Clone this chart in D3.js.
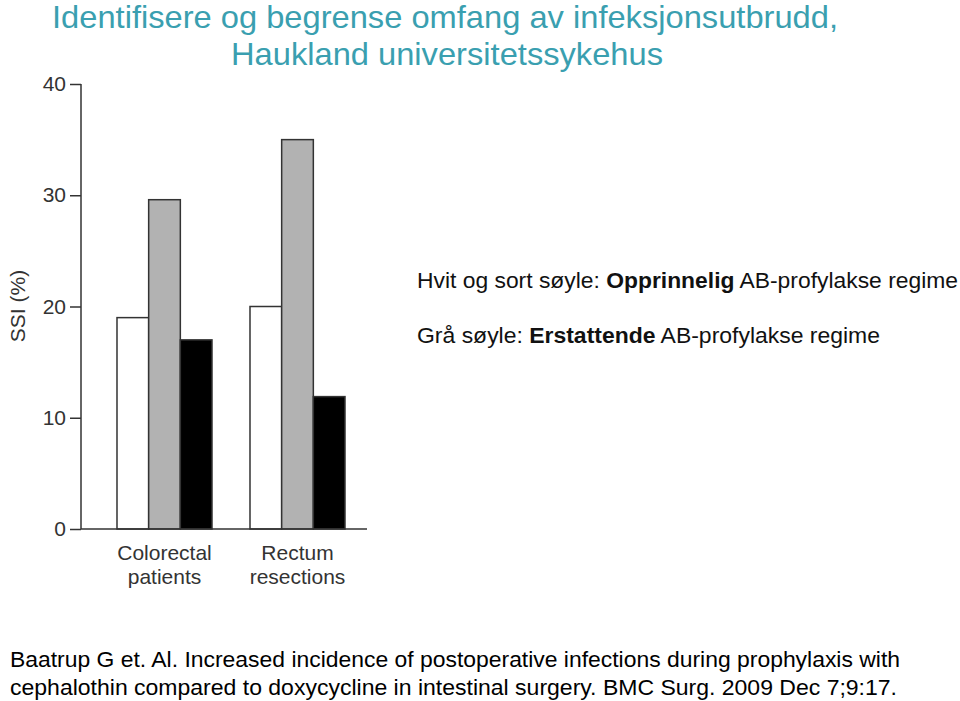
<!DOCTYPE html>
<html><head><meta charset="utf-8">
<script src="https://cdn.jsdelivr.net/npm/d3@7/dist/d3.min.js"></script>
<style>body{margin:0;background:#fff}svg{display:block}</style>
</head><body>
<script>
const categories = [["Colorectal","patients"],["Rectum","resections"]];
const seriesNames = ["Opprinnelig (hvit)","Erstattende (grå)","Opprinnelig (sort)"];
const whiteValues = [19, 20];
const grayValues = [29.6, 35];
const blackValues = [17, 11.9];
const yTicks = [0, 10, 20, 30, 40];
const titleLines = ["Identifisere og begrense omfang av infeksjonsutbrudd,","Haukland universitetssykehus"];
const citationLines = ["Baatrup G et. Al. Increased incidence of postoperative infections during prophylaxis with","cephalothin compared to doxycycline in intestinal surgery. BMC Surg. 2009 Dec 7;9:17."];

const W=960,H=701;
const svg=d3.select("body").append("svg").attr("width",W).attr("height",H);
const font="Liberation Sans, Arial, sans-serif";

// title
svg.append("text").attr("x",52).attr("y",28).attr("fill","#3a9fb0").attr("font-family",font).attr("font-size",32).attr("textLength",786).attr("lengthAdjust","spacingAndGlyphs").text(titleLines[0]);
svg.append("text").attr("x",231).attr("y",65).attr("fill","#3a9fb0").attr("font-family",font).attr("font-size",32).attr("textLength",432).attr("lengthAdjust","spacingAndGlyphs").text(titleLines[1]);

const y=d3.scaleLinear().domain([0,40]).range([529,84]);
const x0=d3.scaleBand().domain([0,1]).range([79,383]).paddingInner(0.2857).paddingOuter(0.2857);
const data=categories.map((c,i)=>({i,vals:[whiteValues[i],grayValues[i],blackValues[i]]}));
const x1=d3.scaleBand().domain([0,1,2]).range([0,x0.bandwidth()]);
const fills=["#ffffff","#b2b2b2","#000000"];

const g=svg.append("g");
data.forEach(d=>{
  d.vals.forEach((v,j)=>{
    g.append("rect").attr("x",x0(d.i)+x1(j)).attr("y",y(v)).attr("width",x1.bandwidth()).attr("height",y(0)-y(v))
     .attr("fill",fills[j]).attr("stroke","#333").attr("stroke-width",1.5);
  });
});

// axes
const ax=svg.append("g").attr("transform","translate(81,0)").call(d3.axisLeft(y).tickValues(yTicks).tickSize(11).tickPadding(4));
ax.select(".domain").attr("d",`M0,${y(40)}V${y(0)}`).attr("stroke","#333").attr("stroke-width",1.5);
ax.selectAll(".tick line").attr("stroke","#333").attr("stroke-width",1.5);
ax.selectAll(".tick text").attr("font-family",font).attr("font-size",21).attr("fill","#333");
svg.append("line").attr("x1",81).attr("x2",367).attr("y1",y(0)).attr("y2",y(0)).attr("stroke","#333").attr("stroke-width",1.5);

// category labels
data.forEach(d=>{
  const cx=x0(d.i)+x0.bandwidth()/2;
  const t=svg.append("text").attr("x",cx).attr("y",560).attr("text-anchor","middle").attr("font-family",font).attr("font-size",21).attr("fill","#333");
  t.append("tspan").attr("x",cx).text(categories[d.i][0]);
  t.append("tspan").attr("x",cx).attr("dy",24).text(categories[d.i][1]);
});

svg.append("text").attr("transform","translate(25,306) rotate(-90)").attr("text-anchor","middle").attr("font-family",font).attr("font-size",21).attr("fill","#333").text("SSI (%)");

// legend
const l1=svg.append("text").attr("x",417).attr("y",288).attr("font-family",font).attr("font-size",21.5).attr("fill","#111").attr("textLength",541).attr("lengthAdjust","spacingAndGlyphs");
l1.append("tspan").text("Hvit og sort søyle: ");
l1.append("tspan").attr("font-weight","bold").text("Opprinnelig");
l1.append("tspan").text(" AB-profylakse regime");
const l2=svg.append("text").attr("x",417).attr("y",343).attr("font-family",font).attr("font-size",21.5).attr("fill","#111").attr("textLength",463).attr("lengthAdjust","spacingAndGlyphs");
l2.append("tspan").text("Grå søyle: ");
l2.append("tspan").attr("font-weight","bold").text("Erstattende");
l2.append("tspan").text(" AB-profylakse regime");

// citation
svg.append("text").attr("x",10).attr("y",667).attr("font-family",font).attr("font-size",22).attr("fill","#000").attr("textLength",890).attr("lengthAdjust","spacingAndGlyphs").text(citationLines[0]);
svg.append("text").attr("x",10).attr("y",695).attr("font-family",font).attr("font-size",22).attr("fill","#000").attr("textLength",887).attr("lengthAdjust","spacingAndGlyphs").text(citationLines[1]);
</script>
</body></html>
